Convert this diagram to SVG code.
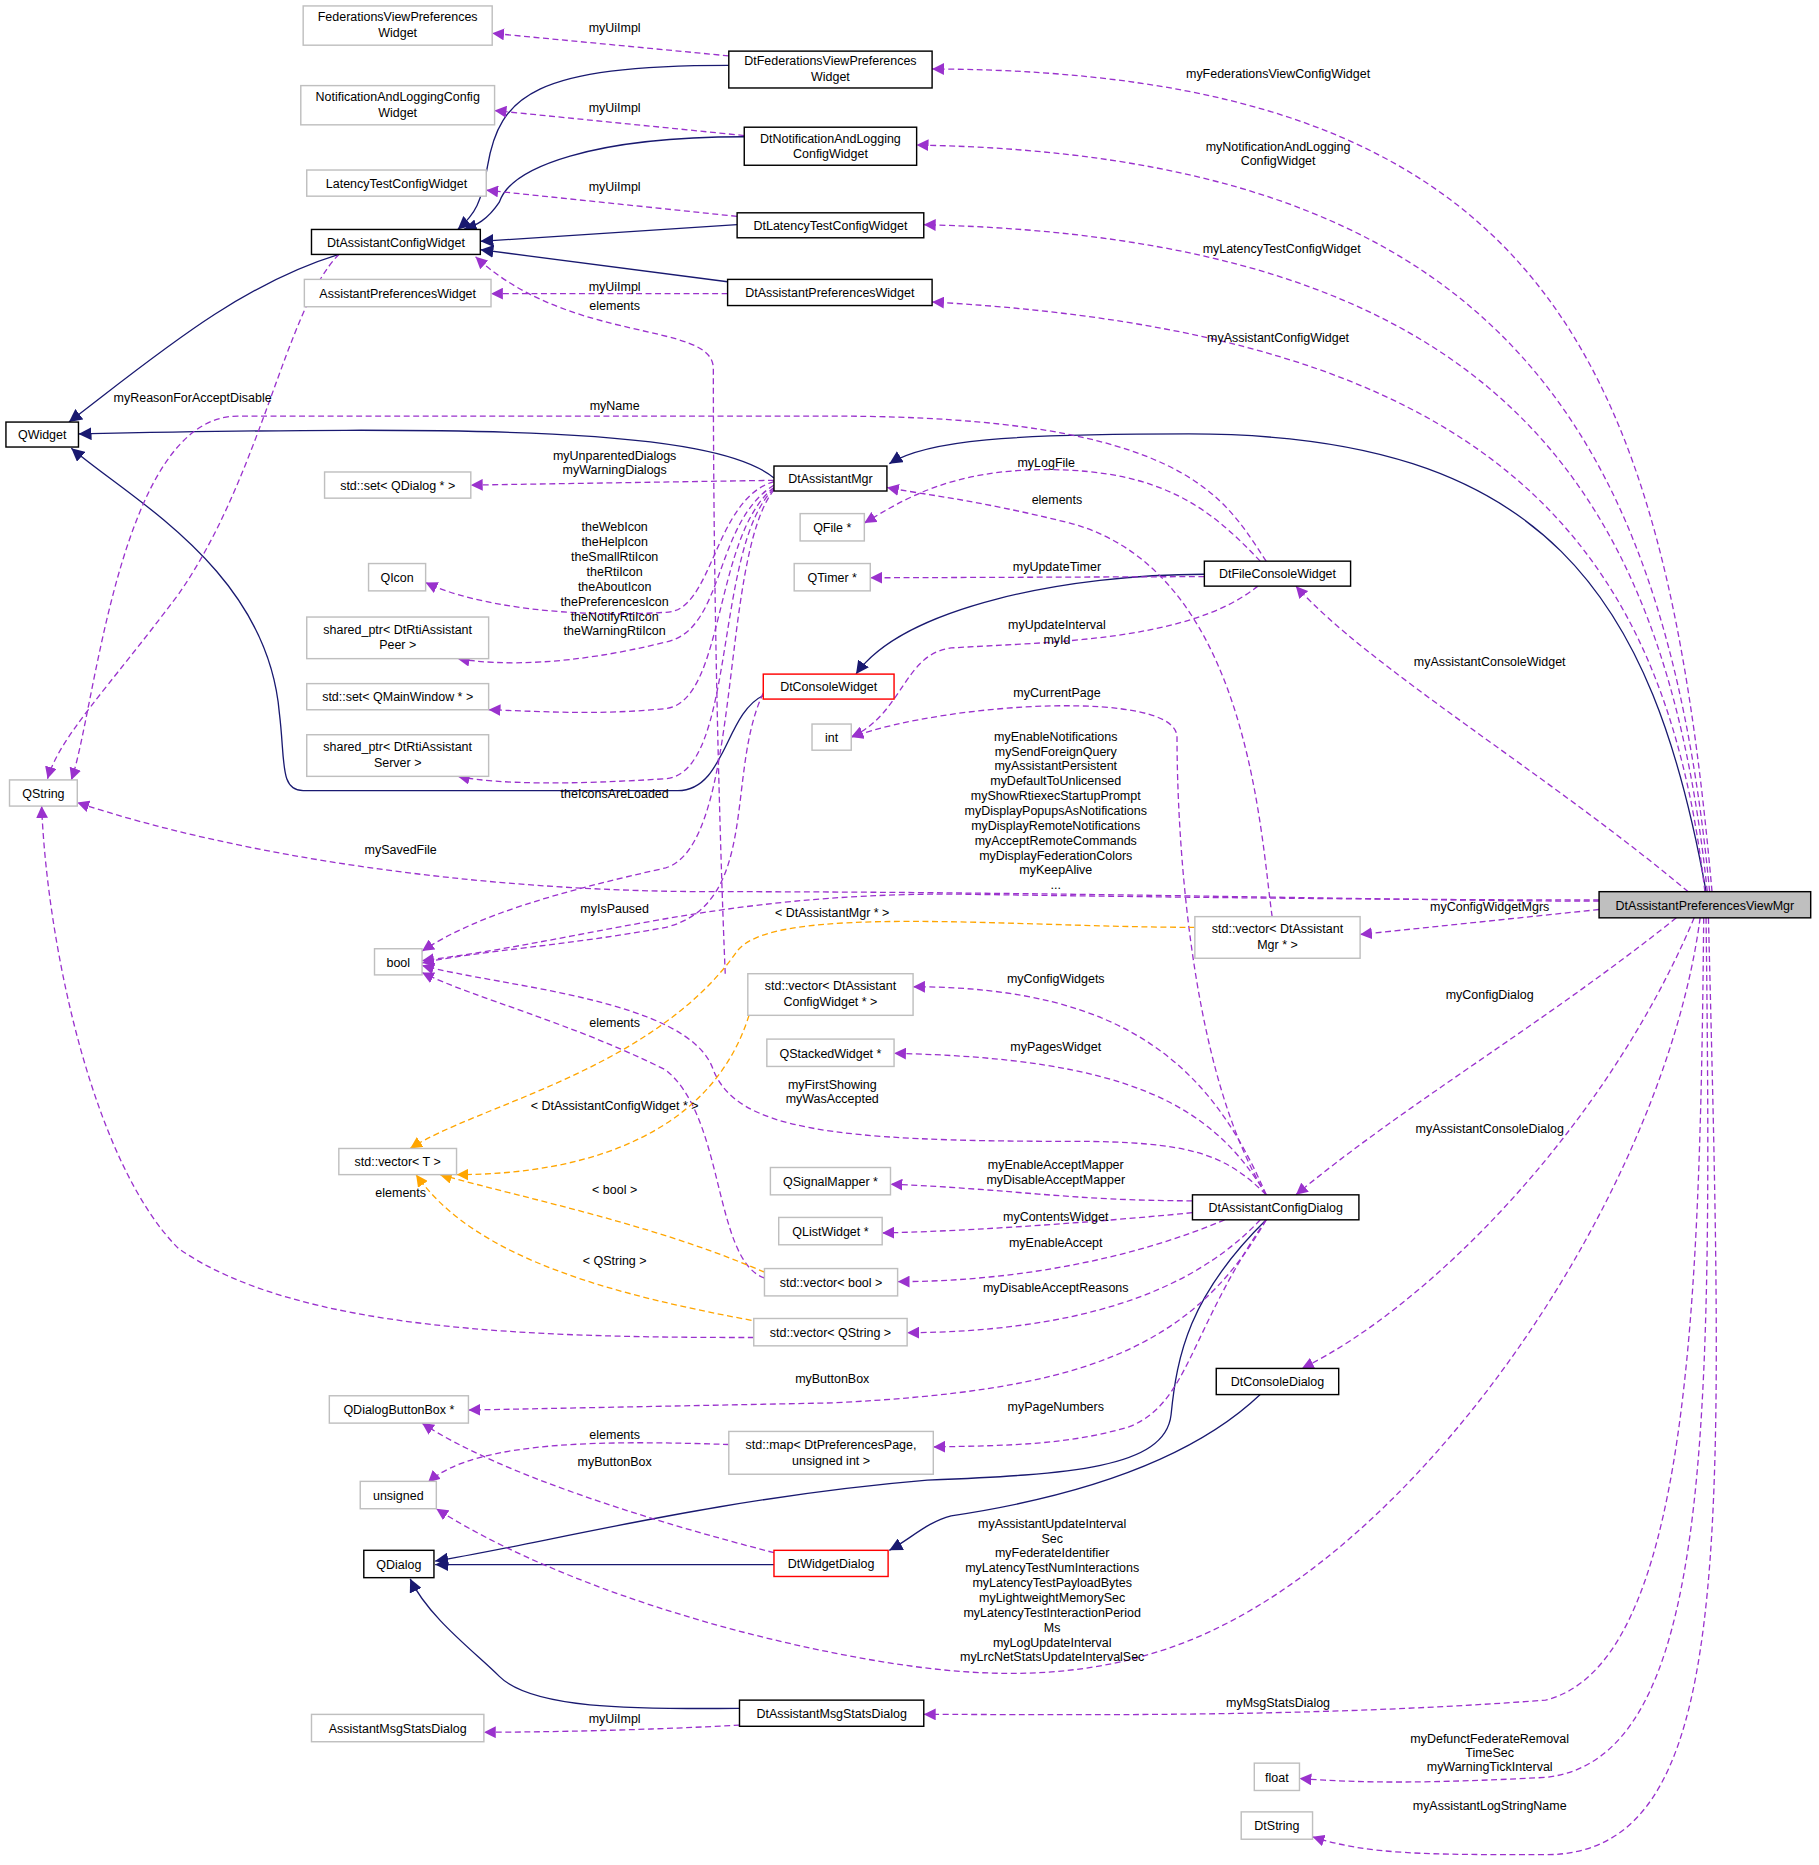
<svg xmlns="http://www.w3.org/2000/svg" width="1819" height="1865" viewBox="0 0 1819 1865">
<style>
.n rect{fill:#fff;stroke:#000;stroke-width:1.2}
.g rect{fill:#fff;stroke:#bfbfbf;stroke-width:1.2}
.r rect{fill:#fff;stroke:#f00;stroke-width:1.2}
.f rect{fill:#bfbfbf;stroke:#000;stroke-width:1.2}
text{font-family:"Liberation Sans",Arial,sans-serif;font-size:10.5px;text-anchor:middle;fill:#000}
.e path{fill:none;stroke-width:1.1}
.i{stroke:#191970}
.u{stroke:#9a32cd;stroke-dasharray:5,3}
.t{stroke:#ffa500;stroke-dasharray:5,3}
</style>
<defs>
<marker id="ai" markerUnits="userSpaceOnUse" viewBox="0 0 10 10" refX="10" refY="5" markerWidth="11" markerHeight="11" orient="auto"><path d="M0,0L10,5L0,10z" fill="#191970"/></marker>
<marker id="au" markerUnits="userSpaceOnUse" viewBox="0 0 10 10" refX="10" refY="5" markerWidth="10" markerHeight="10" orient="auto"><path d="M0,0L10,5L0,10z" fill="#9a32cd"/></marker>
<marker id="at" markerUnits="userSpaceOnUse" viewBox="0 0 10 10" refX="10" refY="5" markerWidth="10" markerHeight="10" orient="auto"><path d="M0,0L10,5L0,10z" fill="#ffa500"/></marker>
</defs>
<rect width="1819" height="1865" fill="#fff"/>
<g transform="scale(1.1889)">
<g class="e" id="edges">
<g class="i" marker-end="url(#ai)">
<path d="M613,55C450,55 420,80 410,140C405,170 400,180 385,193"/>
<path d="M626,115C500,115 430,140 420,170C410,185 400,190 390,193"/>
<path d="M620,189L404,203"/>
<path d="M612,237L404,210"/>
<path d="M285,214C200,240 130,300 58,355"/>
<path d="M651,402C600,360 400,358 66,365"/>
<path d="M642,585C610,600 610,665 570,665L255,665C235,665 240,640 235,600C225,480 110,420 60,377"/>
<path d="M1013,483C900,483 760,510 720,567"/>
<path d="M1435,750C1390,500 1300,365 1000,365C850,365 780,370 748,390"/>
<path d="M1065,1026C1000,1090 990,1140 985,1190C980,1235 900,1240 780,1245C600,1260 450,1300 366,1313"/>
<path d="M651,1316L366,1316"/>
<path d="M1060,1173C1000,1230 900,1260 800,1275C780,1280 765,1295 748,1304"/>
<path d="M622,1437C550,1437 450,1440 420,1410C400,1390 360,1360 345,1328"/>
</g>
<g class="u" marker-end="url(#au)">
<path d="M613,47L414,28"/>
<path d="M626,114L416,93"/>
<path d="M620,182L409,160"/>
<path d="M612,247L413,247"/>
<path d="M285,214C240,260 220,400 150,500C90,580 50,620 40,655"/>
<path d="M610,819C605,700 600,500 600,310C600,270 480,290 400,216"/>
<path d="M1065,472C1030,420 1000,350 700,350L200,350C100,350 80,600 60,656"/>
<path d="M651,404L396,408"/>
<path d="M651,405C600,420 600,515 560,515C480,520 400,510 358,490"/>
<path d="M651,408C600,440 610,530 560,540C480,560 420,560 385,554"/>
<path d="M651,410C600,450 610,590 560,596C500,602 450,598 411,597"/>
<path d="M651,411C600,460 620,650 560,655C480,660 420,660 385,653"/>
<path d="M651,412C605,470 625,710 560,730C470,750 400,770 355,800"/>
<path d="M1345,758C1200,758 900,750 600,750C400,750 200,720 65,675"/>
<path d="M1060,472C1020,430 980,395 880,395C800,395 760,420 727,440"/>
<path d="M1013,485L732,486"/>
<path d="M1058,493C1000,540 880,540 800,545C760,550 760,600 716,620"/>
<path d="M1065,1005C1000,900 990,700 990,620C990,580 800,590 716,620"/>
<path d="M1070,771C1060,700 1050,480 900,440C820,420 770,415 746,410"/>
<path d="M1345,757C1200,757 1000,755 800,752C600,752 500,790 355,808"/>
<path d="M642,583C610,650 640,760 560,780C480,795 400,800 355,810"/>
<path d="M643,1075C600,1060 610,940 560,900C480,860 400,840 355,818"/>
<path d="M1065,1005C1030,970 1000,960 900,960C700,960 620,950 600,900C580,840 420,830 355,812"/>
<path d="M1065,1005C1020,900 950,830 768,830"/>
<path d="M1065,1005C1020,930 950,890 752,886"/>
<path d="M1003,1010C900,1010 850,1000 749,996"/>
<path d="M1003,1020C900,1030 800,1036 742,1037"/>
<path d="M1030,1026C950,1060 850,1078 755,1078"/>
<path d="M1060,1026C1000,1090 900,1120 763,1121"/>
<path d="M634,1125C450,1125 250,1120 150,1050C80,980 40,800 35,678"/>
<path d="M1065,1026C1000,1140 900,1170 700,1180L394,1186"/>
<path d="M1065,1026C1000,1120 1000,1180 950,1200C900,1215 850,1216 785,1217"/>
<path d="M613,1215C520,1212 400,1210 360,1247"/>
<path d="M651,1306C550,1280 420,1240 355,1197"/>
<path d="M1430,772C1400,1000 1200,1300 1000,1380C900,1420 800,1410 700,1390C550,1360 430,1310 367,1269"/>
<path d="M1440,750C1400,300 1300,60 784,58"/>
<path d="M1438,750C1400,350 1250,130 771,122"/>
<path d="M1436,750C1400,400 1250,200 777,189"/>
<path d="M1434,750C1400,450 1250,280 784,254"/>
<path d="M1420,750C1300,650 1150,560 1090,493"/>
<path d="M1345,765L1144,786"/>
<path d="M1410,772C1300,860 1180,930 1090,1005"/>
<path d="M1425,772C1350,950 1200,1100 1095,1151"/>
<path d="M1433,772C1430,1100 1420,1400 1300,1430C1100,1445 900,1442 777,1442"/>
<path d="M1435,772C1440,1200 1440,1480 1300,1495C1200,1500 1150,1500 1093,1496"/>
<path d="M1437,772C1450,1300 1460,1560 1300,1560C1200,1560 1150,1560 1104,1545"/>
<path d="M622,1451C550,1455 460,1457 407,1457"/>
</g>
<g class="t" marker-end="url(#at)">
<path d="M1005,780C850,780 650,760 620,800C550,900 400,930 345,966"/>
<path d="M630,854C600,950 500,988 384,988"/>
<path d="M643,1070C550,1030 450,1010 370,988"/>
<path d="M640,1112C520,1090 400,1060 350,988"/>
</g>
</g>
<g id="labels">
<text x="517" y="27">myUiImpl</text>
<text x="517" y="94">myUiImpl</text>
<text x="517" y="161">myUiImpl</text>
<text x="517" y="245">myUiImpl</text>
<text x="517" y="261">elements</text>
<text x="162" y="338">myReasonForAcceptDisable</text>
<text x="517" y="345">myName</text>
<text x="517" y="387">myUnparentedDialogs</text>
<text x="517" y="399">myWarningDialogs</text>
<text x="517" y="447">theWebIcon</text>
<text x="517" y="459.5">theHelpIcon</text>
<text x="517" y="472">theSmallRtiIcon</text>
<text x="517" y="484.5">theRtiIcon</text>
<text x="517" y="497">theAboutIcon</text>
<text x="517" y="509.5">thePreferencesIcon</text>
<text x="517" y="522">theNotifyRtiIcon</text>
<text x="517" y="534.5">theWarningRtiIcon</text>
<text x="880" y="393">myLogFile</text>
<text x="889" y="424">elements</text>
<text x="889" y="480">myUpdateTimer</text>
<text x="889" y="529">myUpdateInterval</text>
<text x="889" y="542">myId</text>
<text x="889" y="586">myCurrentPage</text>
<text x="888" y="623">myEnableNotifications</text>
<text x="888" y="635.5">mySendForeignQuery</text>
<text x="888" y="648">myAssistantPersistent</text>
<text x="888" y="660.5">myDefaultToUnlicensed</text>
<text x="888" y="673">myShowRtiexecStartupPrompt</text>
<text x="888" y="685.5">myDisplayPopupsAsNotifications</text>
<text x="888" y="698">myDisplayRemoteNotifications</text>
<text x="888" y="710.5">myAcceptRemoteCommands</text>
<text x="888" y="723">myDisplayFederationColors</text>
<text x="888" y="735.5">myKeepAlive</text>
<text x="888" y="748">...</text>
<text x="517" y="671">theIconsAreLoaded</text>
<text x="337" y="718">mySavedFile</text>
<text x="517" y="768">myIsPaused</text>
<text x="700" y="771">&lt; DtAssistantMgr * &gt;</text>
<text x="888" y="827">myConfigWidgets</text>
<text x="517" y="864">elements</text>
<text x="888" y="884">myPagesWidget</text>
<text x="700" y="916">myFirstShowing</text>
<text x="700" y="928">myWasAccepted</text>
<text x="517" y="934">&lt; DtAssistantConfigWidget * &gt;</text>
<text x="888" y="983">myEnableAcceptMapper</text>
<text x="888" y="996">myDisableAcceptMapper</text>
<text x="517" y="1004">&lt; bool &gt;</text>
<text x="337" y="1007">elements</text>
<text x="888" y="1027">myContentsWidget</text>
<text x="888" y="1049">myEnableAccept</text>
<text x="517" y="1064">&lt; QString &gt;</text>
<text x="888" y="1087">myDisableAcceptReasons</text>
<text x="700" y="1163">myButtonBox</text>
<text x="888" y="1187">myPageNumbers</text>
<text x="517" y="1210">elements</text>
<text x="517" y="1233">myButtonBox</text>
<text x="885" y="1285">myAssistantUpdateInterval</text>
<text x="885" y="1297.5">Sec</text>
<text x="885" y="1310">myFederateIdentifier</text>
<text x="885" y="1322.5">myLatencyTestNumInteractions</text>
<text x="885" y="1335">myLatencyTestPayloadBytes</text>
<text x="885" y="1347.5">myLightweightMemorySec</text>
<text x="885" y="1360">myLatencyTestInteractionPeriod</text>
<text x="885" y="1372.5">Ms</text>
<text x="885" y="1385">myLogUpdateInterval</text>
<text x="885" y="1397.5">myLrcNetStatsUpdateIntervalSec</text>
<text x="1075" y="66">myFederationsViewConfigWidget</text>
<text x="1075" y="127">myNotificationAndLogging</text>
<text x="1075" y="139">ConfigWidget</text>
<text x="1078" y="213">myLatencyTestConfigWidget</text>
<text x="1075" y="288">myAssistantConfigWidget</text>
<text x="1253" y="560">myAssistantConsoleWidget</text>
<text x="1253" y="766">myConfigWidgetMgrs</text>
<text x="1253" y="840">myConfigDialog</text>
<text x="1253" y="953">myAssistantConsoleDialog</text>
<text x="1075" y="1436">myMsgStatsDialog</text>
<text x="1253" y="1466">myDefunctFederateRemoval</text>
<text x="1253" y="1478">TimeSec</text>
<text x="1253" y="1490">myWarningTickInterval</text>
<text x="1253" y="1522">myAssistantLogStringName</text>
<text x="517" y="1449">myUiImpl</text>
</g>
<g id="n1" class="g"><rect x="255" y="5" width="159" height="33"/><text x="334.5" y="18">FederationsViewPreferences</text><text x="334.5" y="31">Widget</text></g>
<g id="n2" class="g"><rect x="253" y="72" width="163" height="33"/><text x="334.5" y="85">NotificationAndLoggingConfig</text><text x="334.5" y="98">Widget</text></g>
<g id="n3" class="g"><rect x="258" y="143" width="151" height="22"/><text x="333.5" y="158">LatencyTestConfigWidget</text></g>
<g id="n4" class="n"><rect x="262" y="193" width="142" height="21"/><text x="333" y="207.5">DtAssistantConfigWidget</text></g>
<g id="n5" class="g"><rect x="256" y="235" width="157" height="23"/><text x="334.5" y="250.5">AssistantPreferencesWidget</text></g>
<g id="n6" class="n"><rect x="5" y="355" width="61" height="21"/><text x="35.5" y="369.5">QWidget</text></g>
<g id="n7" class="g"><rect x="273" y="397" width="123" height="22"/><text x="334.5" y="412">std::set&lt; QDialog * &gt;</text></g>
<g id="n8" class="g"><rect x="310" y="474" width="48" height="23"/><text x="334" y="489.5">QIcon</text></g>
<g id="n9" class="g"><rect x="258" y="519" width="153" height="35"/><text x="334.5" y="533">shared_ptr&lt; DtRtiAssistant</text><text x="334.5" y="546">Peer &gt;</text></g>
<g id="n10" class="g"><rect x="258" y="575" width="153" height="22"/><text x="334.5" y="590">std::set&lt; QMainWindow * &gt;</text></g>
<g id="n11" class="g"><rect x="258" y="618" width="153" height="35"/><text x="334.5" y="632">shared_ptr&lt; DtRtiAssistant</text><text x="334.5" y="645">Server &gt;</text></g>
<g id="n12" class="g"><rect x="8" y="656" width="57" height="22"/><text x="36.5" y="671">QString</text></g>
<g id="n13" class="g"><rect x="315" y="798" width="40" height="22"/><text x="335" y="813">bool</text></g>
<g id="n14" class="g"><rect x="285" y="966" width="99" height="22"/><text x="334.5" y="981">std::vector&lt; T &gt;</text></g>
<g id="n15" class="g"><rect x="277" y="1174" width="117" height="23"/><text x="335.5" y="1189.5">QDialogButtonBox *</text></g>
<g id="n16" class="g"><rect x="303" y="1246" width="64" height="23"/><text x="335" y="1261.5">unsigned</text></g>
<g id="n17" class="n"><rect x="306" y="1304" width="59" height="23"/><text x="335.5" y="1319.5">QDialog</text></g>
<g id="n18" class="g"><rect x="262" y="1442" width="145" height="23"/><text x="334.5" y="1457.5">AssistantMsgStatsDialog</text></g>
<g id="n19" class="n"><rect x="613" y="43" width="171" height="31"/><text x="698.5" y="55">DtFederationsViewPreferences</text><text x="698.5" y="68">Widget</text></g>
<g id="n20" class="n"><rect x="626" y="107" width="145" height="32"/><text x="698.5" y="120">DtNotificationAndLogging</text><text x="698.5" y="133">ConfigWidget</text></g>
<g id="n21" class="n"><rect x="620" y="179" width="157" height="21"/><text x="698.5" y="193.5">DtLatencyTestConfigWidget</text></g>
<g id="n22" class="n"><rect x="612" y="235" width="172" height="22"/><text x="698" y="249.5">DtAssistantPreferencesWidget</text></g>
<g id="n23" class="n"><rect x="651" y="392" width="95" height="21"/><text x="698.5" y="406.5">DtAssistantMgr</text></g>
<g id="n24" class="g"><rect x="673" y="432" width="54" height="23"/><text x="700" y="447.5">QFile *</text></g>
<g id="n25" class="g"><rect x="668" y="474" width="64" height="23"/><text x="700" y="489.5">QTimer *</text></g>
<g id="n26" class="n"><rect x="1013" y="472" width="123" height="21"/><text x="1074.5" y="486.5">DtFileConsoleWidget</text></g>
<g id="n27" class="r"><rect x="642" y="567" width="110" height="21"/><text x="697" y="581.5">DtConsoleWidget</text></g>
<g id="n28" class="g"><rect x="683" y="609" width="33" height="22"/><text x="699.5" y="624">int</text></g>
<g id="n29" class="g"><rect x="1005" y="771" width="139" height="35"/><text x="1074.5" y="785">std::vector&lt; DtAssistant</text><text x="1074.5" y="798">Mgr * &gt;</text></g>
<g id="n30" class="g"><rect x="629" y="819" width="139" height="35"/><text x="698.5" y="833">std::vector&lt; DtAssistant</text><text x="698.5" y="846">ConfigWidget * &gt;</text></g>
<g id="n31" class="g"><rect x="645" y="874" width="107" height="23"/><text x="698.5" y="889.5">QStackedWidget *</text></g>
<g id="n32" class="g"><rect x="648" y="982" width="101" height="23"/><text x="698.5" y="997.5">QSignalMapper *</text></g>
<g id="n33" class="g"><rect x="655" y="1024" width="87" height="23"/><text x="698.5" y="1039.5">QListWidget *</text></g>
<g id="n34" class="g"><rect x="643" y="1067" width="112" height="23"/><text x="699" y="1082.5">std::vector&lt; bool &gt;</text></g>
<g id="n35" class="g"><rect x="634" y="1109" width="129" height="23"/><text x="698.5" y="1124.5">std::vector&lt; QString &gt;</text></g>
<g id="n36" class="g"><rect x="613" y="1204" width="172" height="36"/><text x="699" y="1219">std::map&lt; DtPreferencesPage,</text><text x="699" y="1232">unsigned int &gt;</text></g>
<g id="n37" class="r"><rect x="651" y="1304" width="96" height="22"/><text x="699" y="1319">DtWidgetDialog</text></g>
<g id="n38" class="n"><rect x="622" y="1430" width="155" height="22"/><text x="699.5" y="1445">DtAssistantMsgStatsDialog</text></g>
<g id="n39" class="n"><rect x="1003" y="1005" width="140" height="21"/><text x="1073" y="1019.5">DtAssistantConfigDialog</text></g>
<g id="n40" class="n"><rect x="1023" y="1151" width="103" height="22"/><text x="1074.5" y="1166">DtConsoleDialog</text></g>
<g id="n41" class="f"><rect x="1345" y="750" width="178" height="22"/><text x="1434" y="765">DtAssistantPreferencesViewMgr</text></g>
<g id="n42" class="g"><rect x="1055" y="1483" width="38" height="23"/><text x="1074" y="1498.5">float</text></g>
<g id="n43" class="g"><rect x="1044" y="1524" width="60" height="23"/><text x="1074" y="1539.5">DtString</text></g>
</g>
</svg>
